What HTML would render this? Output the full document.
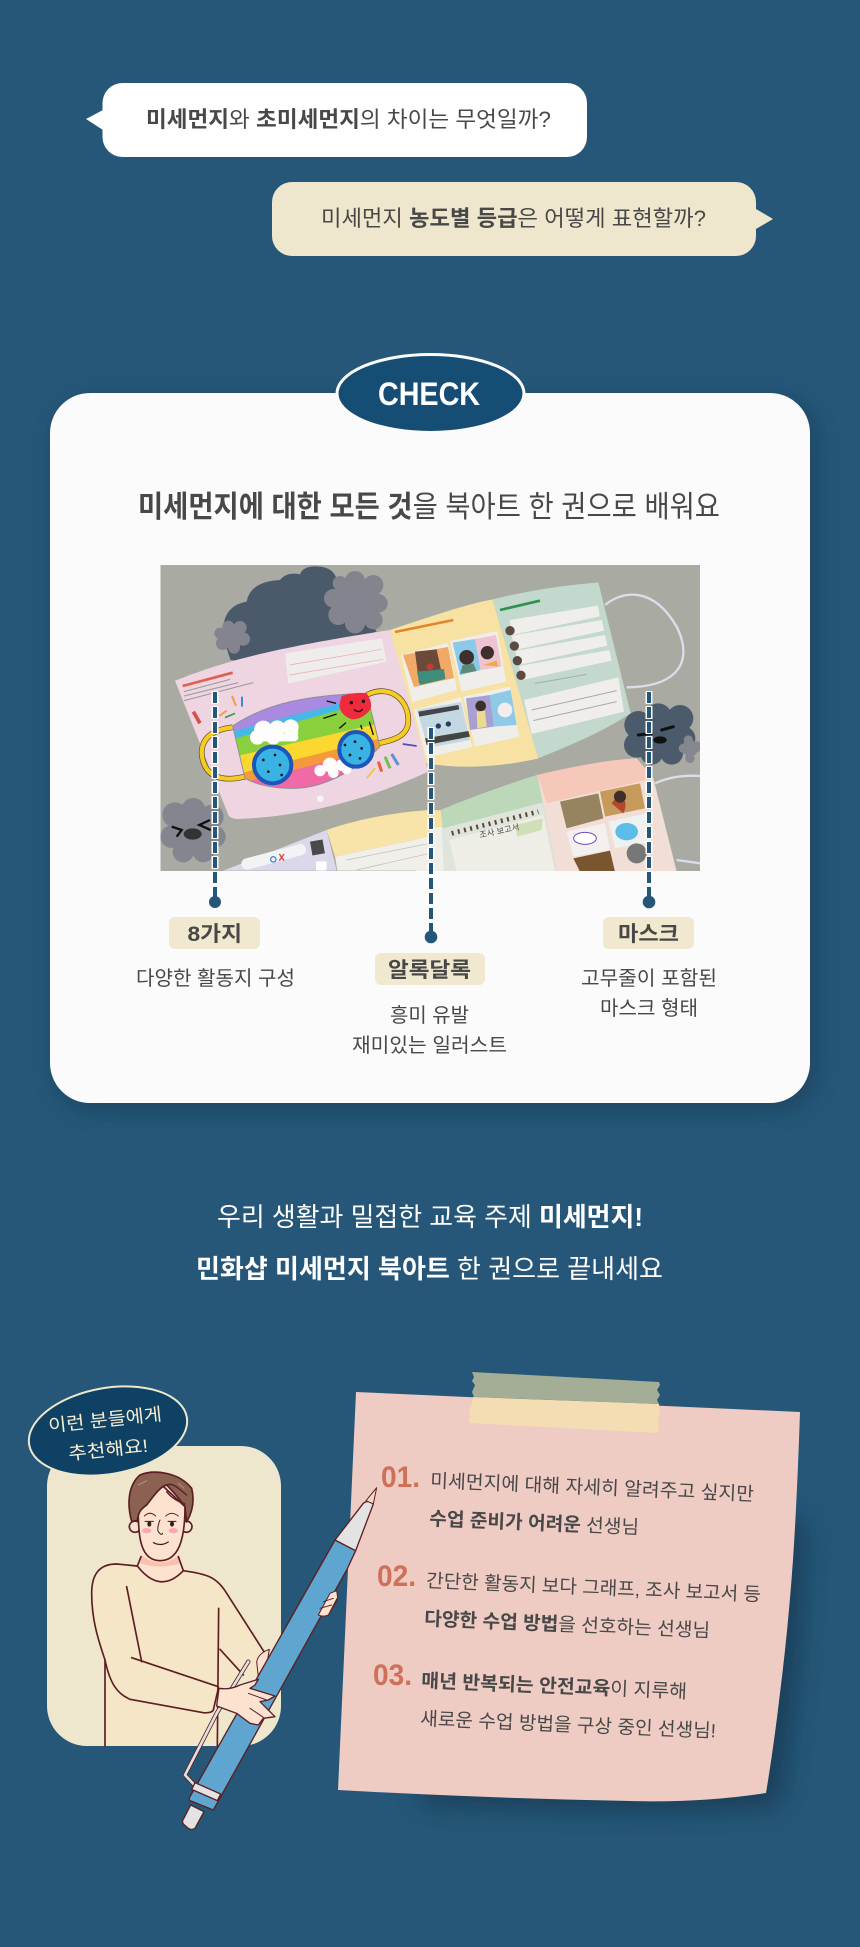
<!DOCTYPE html>
<html lang="ko"><head><meta charset="utf-8"><title>미세먼지 북아트</title>
<style>
html,body{margin:0;padding:0;background:#265778;width:860px;height:1947px;overflow:hidden}
svg{display:block}
text{font-family:"Liberation Sans","Noto Sans CJK KR",sans-serif;fill:#484848;font-weight:400}
.b,tspan.b{font-weight:700}
</style></head><body>
<svg width="860" height="1947" viewBox="0 0 860 1947" xmlns="http://www.w3.org/2000/svg">
<defs>
<filter id="sh" x="-10%" y="-10%" width="125%" height="125%"><feGaussianBlur stdDeviation="12"/></filter>
<clipPath id="ph"><rect x="160.5" y="565" width="539.5" height="306"/></clipPath>
<clipPath id="mask7"><path d="M218 258C320 190 440 165 620 160L660 320C600 380 500 445 400 445C340 445 290 435 255 415Z"/></clipPath>
</defs>
<rect width="860" height="1947" fill="#265778"/>

<!-- bubbles -->
<path d="M103 110L86 119L103 130Z" fill="#fff"/>
<rect x="102.5" y="83" width="484.5" height="74" rx="20" fill="#fff"/>
<text x="146" y="127" font-size="22" textLength="405" lengthAdjust="spacingAndGlyphs"><tspan class="b">미세먼지</tspan>와 <tspan class="b">초미세먼지</tspan>의 차이는 무엇일까?</text>
<path d="M756 209L773 219L756 229Z" fill="#efe7cd"/>
<rect x="272" y="182" width="484" height="74" rx="20" fill="#efe7cd"/>
<text x="321" y="226" font-size="22" textLength="385" lengthAdjust="spacingAndGlyphs">미세먼지 <tspan class="b">농도별 등급</tspan>은 어떻게 표현할까?</text>

<!-- card -->
<rect x="56" y="400" width="760" height="710" rx="40" fill="#0b2a42" opacity=".42" filter="url(#sh)"/>
<rect x="50" y="393" width="760" height="710" rx="40" fill="#fbfbfb"/>
<ellipse cx="430.5" cy="393.5" rx="93.5" ry="39" fill="#164d74" stroke="#fbfbfb" stroke-width="3"/>
<text x="378" y="405" font-size="32" textLength="102" lengthAdjust="spacingAndGlyphs" style="fill:#fff;font-weight:700">CHECK</text>
<text x="138" y="517" font-size="30" textLength="582" lengthAdjust="spacingAndGlyphs"><tspan class="b">미세먼지에 대한 모든 것</tspan>을 북아트 한 권으로 배워요</text>

<!-- photo -->
<g clip-path="url(#ph)">
<rect x="160" y="565" width="540" height="306" fill="#a9aaa1"/>

<!-- top clouds -->
<g transform="translate(160 565) scale(.33333)">
<path d="M190 180Q200 120 260 110Q270 50 360 45Q380 20 420 28Q430 0 480 5Q520 10 528 38L590 100L650 200L300 295L212 285Q190 230 190 180Z" fill="#4a5a6b"/>
<g fill="#84848e">
<circle cx="590" cy="110" r="72"/><circle cx="585" cy="48" r="30"/><circle cx="640" cy="60" r="30"/><circle cx="655" cy="115" r="28"/><circle cx="640" cy="165" r="28"/><circle cx="585" cy="175" r="30"/><circle cx="535" cy="150" r="30"/><circle cx="520" cy="100" r="28"/><circle cx="540" cy="55" r="22"/>
<circle cx="215" cy="215" r="36"/><circle cx="205" cy="185" r="18"/><circle cx="240" cy="188" r="20"/><circle cx="250" cy="222" r="20"/><circle cx="222" cy="248" r="18"/><circle cx="188" cy="235" r="20"/><circle cx="180" cy="205" r="17"/>
</g>
</g>

<!-- zoom 8 group -->
<g transform="translate(420 570) scale(.33333)">
<path d="M555 105C610 60 700 50 770 170C820 270 780 350 620 352" fill="none" stroke="#d9dfea" stroke-width="7"/>
<path d="M705 640C750 620 800 615 840 618" fill="none" stroke="#d9dfea" stroke-width="7"/>
<path d="M770 870L840 880" fill="none" stroke="#d9dfea" stroke-width="7"/>
<g fill="#4b5b6c">
<circle cx="715" cy="490" r="70"/><circle cx="655" cy="465" r="42"/><circle cx="715" cy="440" r="40"/><circle cx="780" cy="445" r="40"/><circle cx="790" cy="505" r="36"/><circle cx="755" cy="550" r="34"/><circle cx="695" cy="550" r="34"/><circle cx="650" cy="525" r="38"/>
</g>
<g fill="#85878e"><circle cx="810" cy="535" r="24"/><circle cx="805" cy="510" r="14"/><circle cx="790" cy="535" r="14"/><circle cx="810" cy="565" r="14"/><circle cx="830" cy="530" r="16"/></g>
<path d="M655 495L695 490M725 480L760 470" stroke="#111" stroke-width="9" stroke-linecap="round"/>
<ellipse cx="720" cy="510" rx="20" ry="11" fill="#111"/>
<path d="M-90 180C30 140 130 105 218 88L355 565C250 590 120 600 10 578Z" fill="#f7e2a4"/>
<path d="M218 88C330 60 440 45 535 37L632 430C540 490 440 530 355 565Z" fill="#c3d9cd"/>
<g fill="#efeeea">
<path d="M270 150L533 107Q540 130 538 140L275 195Z"/><path d="M275 197L546 150L552 182L285 240Z"/><path d="M286 243L555 195L562 227L296 285Z"/><path d="M297 288L568 240L575 272L306 330Z"/><path d="M312 390L595 322L612 425L335 492Z"/>
<path d="M90 213L232 183L258 335L125 365Z"/><path d="M-57 255L84 219L111 360L-24 396Z"/><path d="M-18 420L123 381L156 531L18 564Z"/><path d="M130 380L270 350L298 500L165 530Z"/>
</g>
<path d="M98 218L165 207L182 300L120 315Z" fill="#8cc9e8"/><path d="M165 207L228 195L245 290L182 300Z" fill="#efc3d2"/>
<circle cx="140" cy="262" r="22" fill="#3d2f2a"/><path d="M120 312L128 285L160 280L170 303Z" fill="#5c8a7a"/><circle cx="202" cy="248" r="20" fill="#3d2f2a"/><path d="M190 285L230 272L235 290Z" fill="#e8b040"/>
<path d="M-51 255L84 231L102 324L-18 351Z" fill="#f2a866"/><path d="M-15 245L50 238L65 309L-3 339Z" fill="#6b4a3a"/><path d="M-9 305L72 297L76 327L0 345Z" fill="#3d8d7a"/><circle cx="30" cy="290" r="10" fill="#c83a3a"/>
<path d="M-9 420L123 396L150 510L24 534Z" fill="#c3d8e0"/><path d="M-5 425L115 405L118 418L-2 440Z" fill="#44444a"/><path d="M15 505L145 483L150 500L20 525Z" fill="#444"/>
<circle cx="55" cy="468" r="8" fill="#2a3a60"/><circle cx="85" cy="462" r="8" fill="#2a3a60"/>
<path d="M138 385L210 375L222 470L150 480Z" fill="#a8a0d0"/><path d="M210 375L272 360L290 465L222 470Z" fill="#8ecae8"/><circle cx="182" cy="408" r="16" fill="#3d2f2a"/><path d="M170 425L195 422L200 470L172 475Z" fill="#eed990"/><ellipse cx="255" cy="420" rx="22" ry="22" fill="#f2eeee"/>
<g fill="#5a4a40"><circle cx="270" cy="182" r="14"/><circle cx="283" cy="228" r="14"/><circle cx="292" cy="272" r="14"/><circle cx="303" cy="316" r="14"/></g>
<path d="M240 120L360 92" stroke="#2e9050" stroke-width="8"/>
<path d="M-75 186L100 150" stroke="#e5852a" stroke-width="8"/>
<g stroke="#aaa" stroke-width="3"><path d="M345 340L500 313M335 420L590 362M340 452L590 395"/></g>
<path d="M-10 725C30 718 40 722 62 720L70 775L72 905H-10Z" fill="#f7e2a4"/>
<path d="M-10 780L70 770L78 905H-10Z" fill="#efeeea"/>
<path d="M62 720C160 680 270 640 352 615L410 905H72Z" fill="#dfe5dc"/>
<path d="M62 720C160 680 270 640 352 615L378 695L68 775Z" fill="#bcd8b8"/>
<path d="M352 615C460 590 560 570 650 565L700 625L770 905H410Z" fill="#f1dfd7"/>
<path d="M352 615C460 590 560 570 650 565L700 625L380 700Z" fill="#f6c8b9"/>
<path d="M88 810L370 735L405 905H110Z" fill="#efeee6"/>
<path d="M95 790L355 725" stroke="#5a4a30" stroke-width="14" stroke-dasharray="6 13"/>
<path d="M285 765L368 745L365 780L292 800Z" fill="#cfe0b8"/>
<text x="180" y="804" font-size="25" transform="rotate(-12 180 804)">조사 보고서</text>
<path d="M420 695L535 670L550 745L440 775Z" fill="#97835f"/><path d="M540 665L660 640L675 715L555 740Z" fill="#c69a5a"/>
<path d="M440 785L555 760L570 840L460 860Z" fill="#f4f0f0"/><path d="M565 755L680 730L700 815L585 835Z" fill="#eff0f0"/><ellipse cx="620" cy="785" rx="34" ry="26" fill="#5cbde8"/><ellipse cx="495" cy="805" rx="34" ry="18" fill="#fff" stroke="#6b48c0" stroke-width="3"/>
<path d="M460 865L570 842L585 905H480Z" fill="#7a5630"/><ellipse cx="650" cy="850" rx="30" ry="30" fill="#777"/>
<path d="M575 700C600 660 630 690 610 730Z" fill="#b0492e"/><circle cx="600" cy="680" r="18" fill="#3d2f2a"/>
</g>

<!-- zoom 7 group -->
<g transform="translate(160 640) scale(.33333)">
<path d="M190 692L500 570L530 692Z" fill="#dcd7ea"/>
<path d="M500 570C600 535 720 515 810 510V590L525 650Z" fill="#f8e4a8"/>
<path d="M525 650L810 590V692H532Z" fill="#f0efe9"/>
<path d="M560 660L810 610M590 690L810 640" stroke="#bbb" stroke-width="2"/>
<rect x="240" y="660" width="200" height="34" rx="17" fill="#f3f2f5" transform="rotate(-15 240 660)"/>
<rect x="450" y="605" width="38" height="42" fill="#4a4a4a" transform="rotate(-10 450 605)"/>
<circle cx="340" cy="658" r="8" fill="none" stroke="#3a8ad0" stroke-width="4"/><path d="M358 642L372 662M372 642L358 662" stroke="#d84040" stroke-width="4"/>
<rect x="468" y="664" width="32" height="28" rx="4" fill="#fff"/>
<g fill="#84868f">
<circle cx="100" cy="570" r="70"/><circle cx="45" cy="525" r="38"/><circle cx="100" cy="510" r="36"/><circle cx="155" cy="530" r="36"/><circle cx="165" cy="590" r="32"/><circle cx="130" cy="635" r="32"/><circle cx="70" cy="635" r="32"/><circle cx="35" cy="590" r="34"/>
</g>
<path d="M35 560L65 570L50 590M150 540L118 555L152 570" fill="none" stroke="#111" stroke-width="7"/>
<ellipse cx="98" cy="582" rx="27" ry="17" fill="#333"/>
<path d="M45 122C180 70 300 30 690 -30L805 395C620 480 430 530 230 537Q210 535 205 525Z" fill="#eed5e1"/>
<path d="M375 40L665 -5L680 65L385 130Z" fill="#efedec"/>
<path d="M388 75L665 28M388 105L670 58" stroke="#e8a8b0" stroke-width="2"/>
<path d="M68 138L218 98" stroke="#e0604a" stroke-width="8"/>
<path d="M72 155L210 118M72 168L235 128M72 182L280 128" stroke="#999" stroke-width="3"/>
<path d="M100 215L120 250" stroke="#d9504a" stroke-width="11"/><path d="M216 168L228 198" stroke="#f0a040" stroke-width="6"/><path d="M246 170V200" stroke="#3a8ad0" stroke-width="6"/><path d="M178 228L200 212" stroke="#f0a040" stroke-width="6"/><path d="M195 233L225 220" stroke="#3a9a50" stroke-width="5"/>
<path d="M218 262C150 270 125 300 125 340C130 400 170 430 255 410" fill="none" stroke="#5a4a2a" stroke-width="17"/>
<path d="M218 262C150 270 125 300 125 340C130 400 170 430 255 410" fill="none" stroke="#f5cc22" stroke-width="13"/>
<path d="M620 165C690 130 745 180 745 240C745 290 700 300 655 310" fill="none" stroke="#5a4a2a" stroke-width="17"/>
<path d="M620 165C690 130 745 180 745 240C745 290 700 300 655 310" fill="none" stroke="#f5cc22" stroke-width="13"/>
<g clip-path="url(#mask7)">
<rect x="200" y="140" width="480" height="320" fill="#f06aa6"/>
<path d="M200 440L680 320V120H200Z" fill="#f59a3a"/>
<path d="M200 410L680 290V120H200Z" fill="#fbd72f"/>
<path d="M200 355L680 245V120H200Z" fill="#8ad03c"/>
<path d="M200 302L680 172V120H200Z" fill="#46b8e8"/>
<path d="M200 278L680 153V120H200Z" fill="#a98ae0"/>
</g>
<path d="M218 258C320 190 440 165 620 160L660 320C600 380 500 445 400 445C340 445 290 435 255 415Z" fill="none" stroke="#8f8f9a" stroke-width="3"/>
<g fill="#fdfdfb"><circle cx="310" cy="270" r="28"/><circle cx="352" cy="265" r="24"/><circle cx="392" cy="262" r="24"/><circle cx="292" cy="292" r="22"/><circle cx="340" cy="292" r="22"/><circle cx="395" cy="278" r="20"/><rect x="270" y="280" width="145" height="24" rx="12"/>
<circle cx="510" cy="375" r="22"/><circle cx="545" cy="375" r="18"/><circle cx="480" cy="392" r="17"/><circle cx="520" cy="398" r="16"/><circle cx="560" cy="388" r="15"/></g>
<path d="M545 168Q585 155 620 160Q640 190 630 210Q605 240 575 238Q540 225 538 195Z" fill="#ef2a3c"/>
<circle cx="574" cy="188" r="5" fill="#111"/><circle cx="610" cy="184" r="5" fill="#111"/><path d="M582 208Q596 222 608 207" fill="none" stroke="#111" stroke-width="4"/>
<path d="M500 183L528 190M490 235L530 222M538 265L558 248M602 255L606 268M628 245L640 285" stroke="#111" stroke-width="4"/>
<g stroke="#1c56b8" stroke-width="12" fill="#38b3e3"><ellipse cx="338" cy="375" rx="56" ry="55"/><ellipse cx="588" cy="328" rx="50" ry="52"/></g>
<g fill="#111"><circle cx="310" cy="360" r="4"/><circle cx="345" cy="345" r="4"/><circle cx="360" cy="375" r="4"/><circle cx="325" cy="395" r="4"/><circle cx="365" cy="405" r="4"/><circle cx="555" cy="315" r="4"/><circle cx="585" cy="305" r="4"/><circle cx="605" cy="325" r="4"/><circle cx="570" cy="345" r="4"/><circle cx="600" cy="355" r="4"/></g>
<path d="M620 415L645 385" stroke="#f0c040" stroke-width="5"/>
<path d="M665 395L655 365" stroke="#e86040" stroke-width="9"/><path d="M690 385L675 350" stroke="#70c050" stroke-width="9"/><path d="M715 375L695 342" stroke="#6090d0" stroke-width="9"/>
<path d="M728 312L770 318" stroke="#5050b0" stroke-width="5"/>
<circle cx="481" cy="476" r="10" fill="#f6f4f4"/>
</g>
</g>

<!-- dashed connectors -->
<g fill="none">
<path d="M215 691V870" stroke="#fff" stroke-width="7" stroke-dasharray="13 2"/>
<path d="M431 727V870" stroke="#fff" stroke-width="7" stroke-dasharray="13 2"/>
<path d="M649 691V870" stroke="#fff" stroke-width="7" stroke-dasharray="13 2"/>
<path d="M215 692V902M431 728V937M649 692V902" stroke="#24567a" stroke-width="4" stroke-dasharray="11 4"/>
</g>
<g fill="#24567a"><circle cx="215" cy="902" r="6"/><circle cx="431" cy="937" r="6.3"/><circle cx="649" cy="902" r="6.3"/></g>

<!-- labels -->
<g fill="#f0e9cf"><rect x="169" y="917" width="91" height="32" rx="6"/><rect x="375" y="953" width="110" height="32" rx="6"/><rect x="603" y="917" width="91" height="32" rx="6"/></g>
<text x="187.5" y="941" font-size="21" class="b" textLength="54.5" lengthAdjust="spacingAndGlyphs">8가지</text>
<text x="388" y="977" font-size="21" class="b" textLength="83" lengthAdjust="spacingAndGlyphs">알록달록</text>
<text x="618" y="941" font-size="21" class="b" textLength="61" lengthAdjust="spacingAndGlyphs">마스크</text>
<text x="136" y="985" font-size="20" textLength="159" lengthAdjust="spacingAndGlyphs">다양한 활동지 구성</text>
<text x="581" y="985" font-size="20" textLength="136" lengthAdjust="spacingAndGlyphs">고무줄이 포함된</text>
<text x="600" y="1015" font-size="20" textLength="98" lengthAdjust="spacingAndGlyphs">마스크 형태</text>
<text x="390" y="1022" font-size="20" textLength="79" lengthAdjust="spacingAndGlyphs">흥미 유발</text>
<text x="352" y="1052" font-size="20" textLength="155" lengthAdjust="spacingAndGlyphs">재미있는 일러스트</text>

<!-- section text -->
<text x="217" y="1226" font-size="26" textLength="426" lengthAdjust="spacingAndGlyphs" style="fill:#fff">우리 생활과 밀접한 교육 주제 <tspan class="b">미세먼지!</tspan></text>
<text x="196" y="1278" font-size="26" textLength="467" lengthAdjust="spacingAndGlyphs" style="fill:#fff"><tspan class="b">민화샵 미세먼지 북아트</tspan> 한 권으로 끝내세요</text>

<!-- note paper -->
<path d="M400 1500L806 1520C804 1620 795 1720 780 1806C700 1816 560 1812 420 1804Z" fill="#0d2a40" opacity=".5" filter="url(#sh)"/>
<path d="M356 1392L800 1412Q797 1500 793 1560Q788 1630 780 1693Q774 1745 766 1793Q700 1803 630 1801Q480 1798 338 1790Z" fill="#eeccc4"/>
<path d="M472 1372L474 1377L472 1381L475 1385L472 1392L474 1397L659 1404L657 1400L660 1395L657 1390L660 1385L659 1382Z" fill="#a4ad95"/>
<path d="M473 1397L659 1404L660 1413L658 1420L659 1426L658 1433L469 1423L470 1416L469 1410L472 1405Z" fill="#f4dcb3"/>

<g style="font-weight:700">
<text x="381" y="1487" font-size="30" class="b" style="fill:#cf7058" textLength="39" lengthAdjust="spacingAndGlyphs">01.</text>
<text x="377" y="1586" font-size="30" class="b" style="fill:#cf7058" textLength="39" lengthAdjust="spacingAndGlyphs">02.</text>
<text x="373" y="1685" font-size="30" class="b" style="fill:#cf7058" textLength="39" lengthAdjust="spacingAndGlyphs">03.</text>
</g>
<text font-size="19" transform="translate(430 1487) rotate(2.4)" textLength="324" lengthAdjust="spacingAndGlyphs">미세먼지에 대해 자세히 알려주고 싶지만</text>
<text font-size="19" transform="translate(429 1525) rotate(2.4)" textLength="210" lengthAdjust="spacingAndGlyphs"><tspan class="b">수업 준비가 어려운</tspan> 선생님</text>
<text font-size="19" transform="translate(426 1587) rotate(2.4)" textLength="335" lengthAdjust="spacingAndGlyphs">간단한 활동지 보다 그래프, 조사 보고서 등</text>
<text font-size="19" transform="translate(424 1625) rotate(2.4)" textLength="286" lengthAdjust="spacingAndGlyphs"><tspan class="b">다양한 수업 방법</tspan>을 선호하는 선생님</text>
<text font-size="19" transform="translate(421 1687) rotate(2.4)" textLength="266" lengthAdjust="spacingAndGlyphs"><tspan class="b">매년 반복되는 안전교육</tspan>이 지루해</text>
<text font-size="19" transform="translate(420 1725) rotate(2.4)" textLength="296" lengthAdjust="spacingAndGlyphs">새로운 수업 방법을 구상 중인 선생님!</text>

<!-- left panel -->
<rect x="47" y="1446" width="234" height="300" rx="40" fill="#efe7cd"/>

<!-- man -->
<g transform="translate(10 1360) scale(.33333)" stroke-linejoin="round" stroke-linecap="round">
<path d="M285 1158L285 900C265 840 245 780 245 700C245 640 270 612 320 612L382 618Q450 700 520 632C590 642 620 650 650 700L762 875L745 960L700 945L625 985L620 1158Z" fill="#f6e6c8"/>
<path d="M395 540L505 540L518 632Q450 705 382 618Z" fill="#fde2cf"/>
<path d="M393 585Q450 630 508 585L512 610Q450 628 390 610Z" fill="#f9c0b0"/>
<g fill="none" stroke="#5b1f24" stroke-width="5">
<path d="M382 618L320 612C270 612 245 640 245 700C245 780 265 840 285 900L285 1158"/>
<path d="M382 618Q450 705 520 632C590 642 620 650 650 700L762 875"/>
<path d="M350 680L395 905"/><path d="M626 745L622 1158"/><path d="M630 868L700 945"/>
<path d="M365 893L625 980"/>
<path d="M285 900C300 970 320 1000 360 1018L580 1058Q605 1060 610 1050L625 985"/>
<path d="M393 590L382 618M505 590L520 632"/>
</g>
<circle cx="375" cy="500" r="17" fill="#fde2cf" stroke="#5b1f24" stroke-width="5"/><circle cx="529" cy="500" r="17" fill="#fde2cf" stroke="#5b1f24" stroke-width="5"/>
<path d="M385 440C383 540 395 602 450 602C505 602 525 540 525 440L450 370Z" fill="#fde2cf" stroke="#5b1f24" stroke-width="5"/>
<path d="M365 484C350 430 355 375 390 345C430 328 505 335 545 385C555 425 545 460 530 486L525 440C515 425 490 395 470 375C455 378 440 395 410 435C395 445 385 455 382 482Z" fill="#8b6151" stroke="#5b1f24" stroke-width="5"/>
<path d="M470 375C490 365 515 395 530 405M470 395C485 415 505 425 525 432" fill="none" stroke="#5b1f24" stroke-width="4"/>
<path d="M385 375L410 362M505 370L522 385" stroke="#b89080" stroke-width="3"/>
<ellipse cx="410" cy="512" rx="14" ry="8" fill="#f6aab0"/><ellipse cx="490" cy="512" rx="14" ry="8" fill="#f6aab0"/>
<path d="M403 468Q420 452 437 468M467 468Q485 452 505 468" fill="none" stroke="#5b1f24" stroke-width="3"/>
<ellipse cx="418" cy="492" rx="6" ry="8" fill="#3a1a1c"/><ellipse cx="486" cy="492" rx="6" ry="8" fill="#3a1a1c"/>
<path d="M405 484H430M474 484H498" stroke="#3a1a1c" stroke-width="3"/>
<path d="M450 480Q440 505 445 515Q455 528 458 520" fill="none" stroke="#3a1a1c" stroke-width="3"/>
<path d="M430 548Q452 560 475 546" fill="none" stroke="#3a1a1c" stroke-width="3.5"/>
<!-- back hand -->
<path d="M740 905Q745 880 778 868L765 945L745 950Z" fill="#fde2cf" stroke="#5b1f24" stroke-width="3"/>
<path d="M975 695L982 720L955 765L925 765Q925 745 945 725Z" fill="#fde2cf" stroke="#5b1f24" stroke-width="3"/>
<!-- clip -->
<path d="M715 905L620 1060L525 1245L558 1280" fill="none" stroke="#5b1f24" stroke-width="13"/>
<path d="M715 905L620 1060L525 1245L558 1280" fill="none" stroke="#dfdfdf" stroke-width="8"/>
<!-- pen -->
<path d="M975 540L1037 572L1010 630L610 1350L540 1322Q535 1318 540 1310Z" fill="#5ea5cf" stroke="#5b1f24" stroke-width="4"/>
<path d="M975 540L1060 430Q1075 418 1090 432L1037 572Z" fill="#e3e3e3" stroke="#5b1f24" stroke-width="4"/>
<path d="M1068 422L1100 383L1090 432Z" fill="#f3d9c2" stroke="#5b1f24" stroke-width="3"/>
<path d="M555 1268L632 1302L622 1322L545 1288Z" fill="#e3e3e3" stroke="#5b1f24" stroke-width="4"/>
<path d="M542 1335L582 1355L555 1405Q545 1412 535 1405L520 1392Q515 1382 520 1378Z" fill="#e3e3e3" stroke="#5b1f24" stroke-width="4"/>
<path d="M925 765L960 700L980 692L983 712L955 765Q940 772 925 765Z" fill="#fde2cf" stroke="#5b1f24" stroke-width="3"/>
<path d="M930 745L965 735M940 725L970 715" stroke="#5b1f24" stroke-width="3"/>
<!-- front hand -->
<path d="M627 985Q660 990 690 975L745 958L735 975L720 985L795 1008L775 1020L750 1025L795 1070L760 1075L745 1095L720 1090L680 1060L620 1038Z" fill="#fde2cf" stroke="#5b1f24" stroke-width="4"/>
<path d="M715 1000L770 1020M720 1045L760 1072" fill="none" stroke="#5b1f24" stroke-width="3"/>
</g>

<!-- recommend bubble -->
<ellipse cx="108" cy="1431" rx="80" ry="43" transform="rotate(-10 108 1431)" fill="#0e4164" stroke="#efe7cd" stroke-width="2"/>
<text transform="translate(49 1432) rotate(-6)" font-size="18" textLength="114" lengthAdjust="spacingAndGlyphs" style="fill:#f5edd2">이런 분들에게</text>
<text transform="translate(69 1460) rotate(-6)" font-size="18" textLength="80" lengthAdjust="spacingAndGlyphs" style="fill:#f5edd2">추천해요!</text>
</svg>
</body></html>
